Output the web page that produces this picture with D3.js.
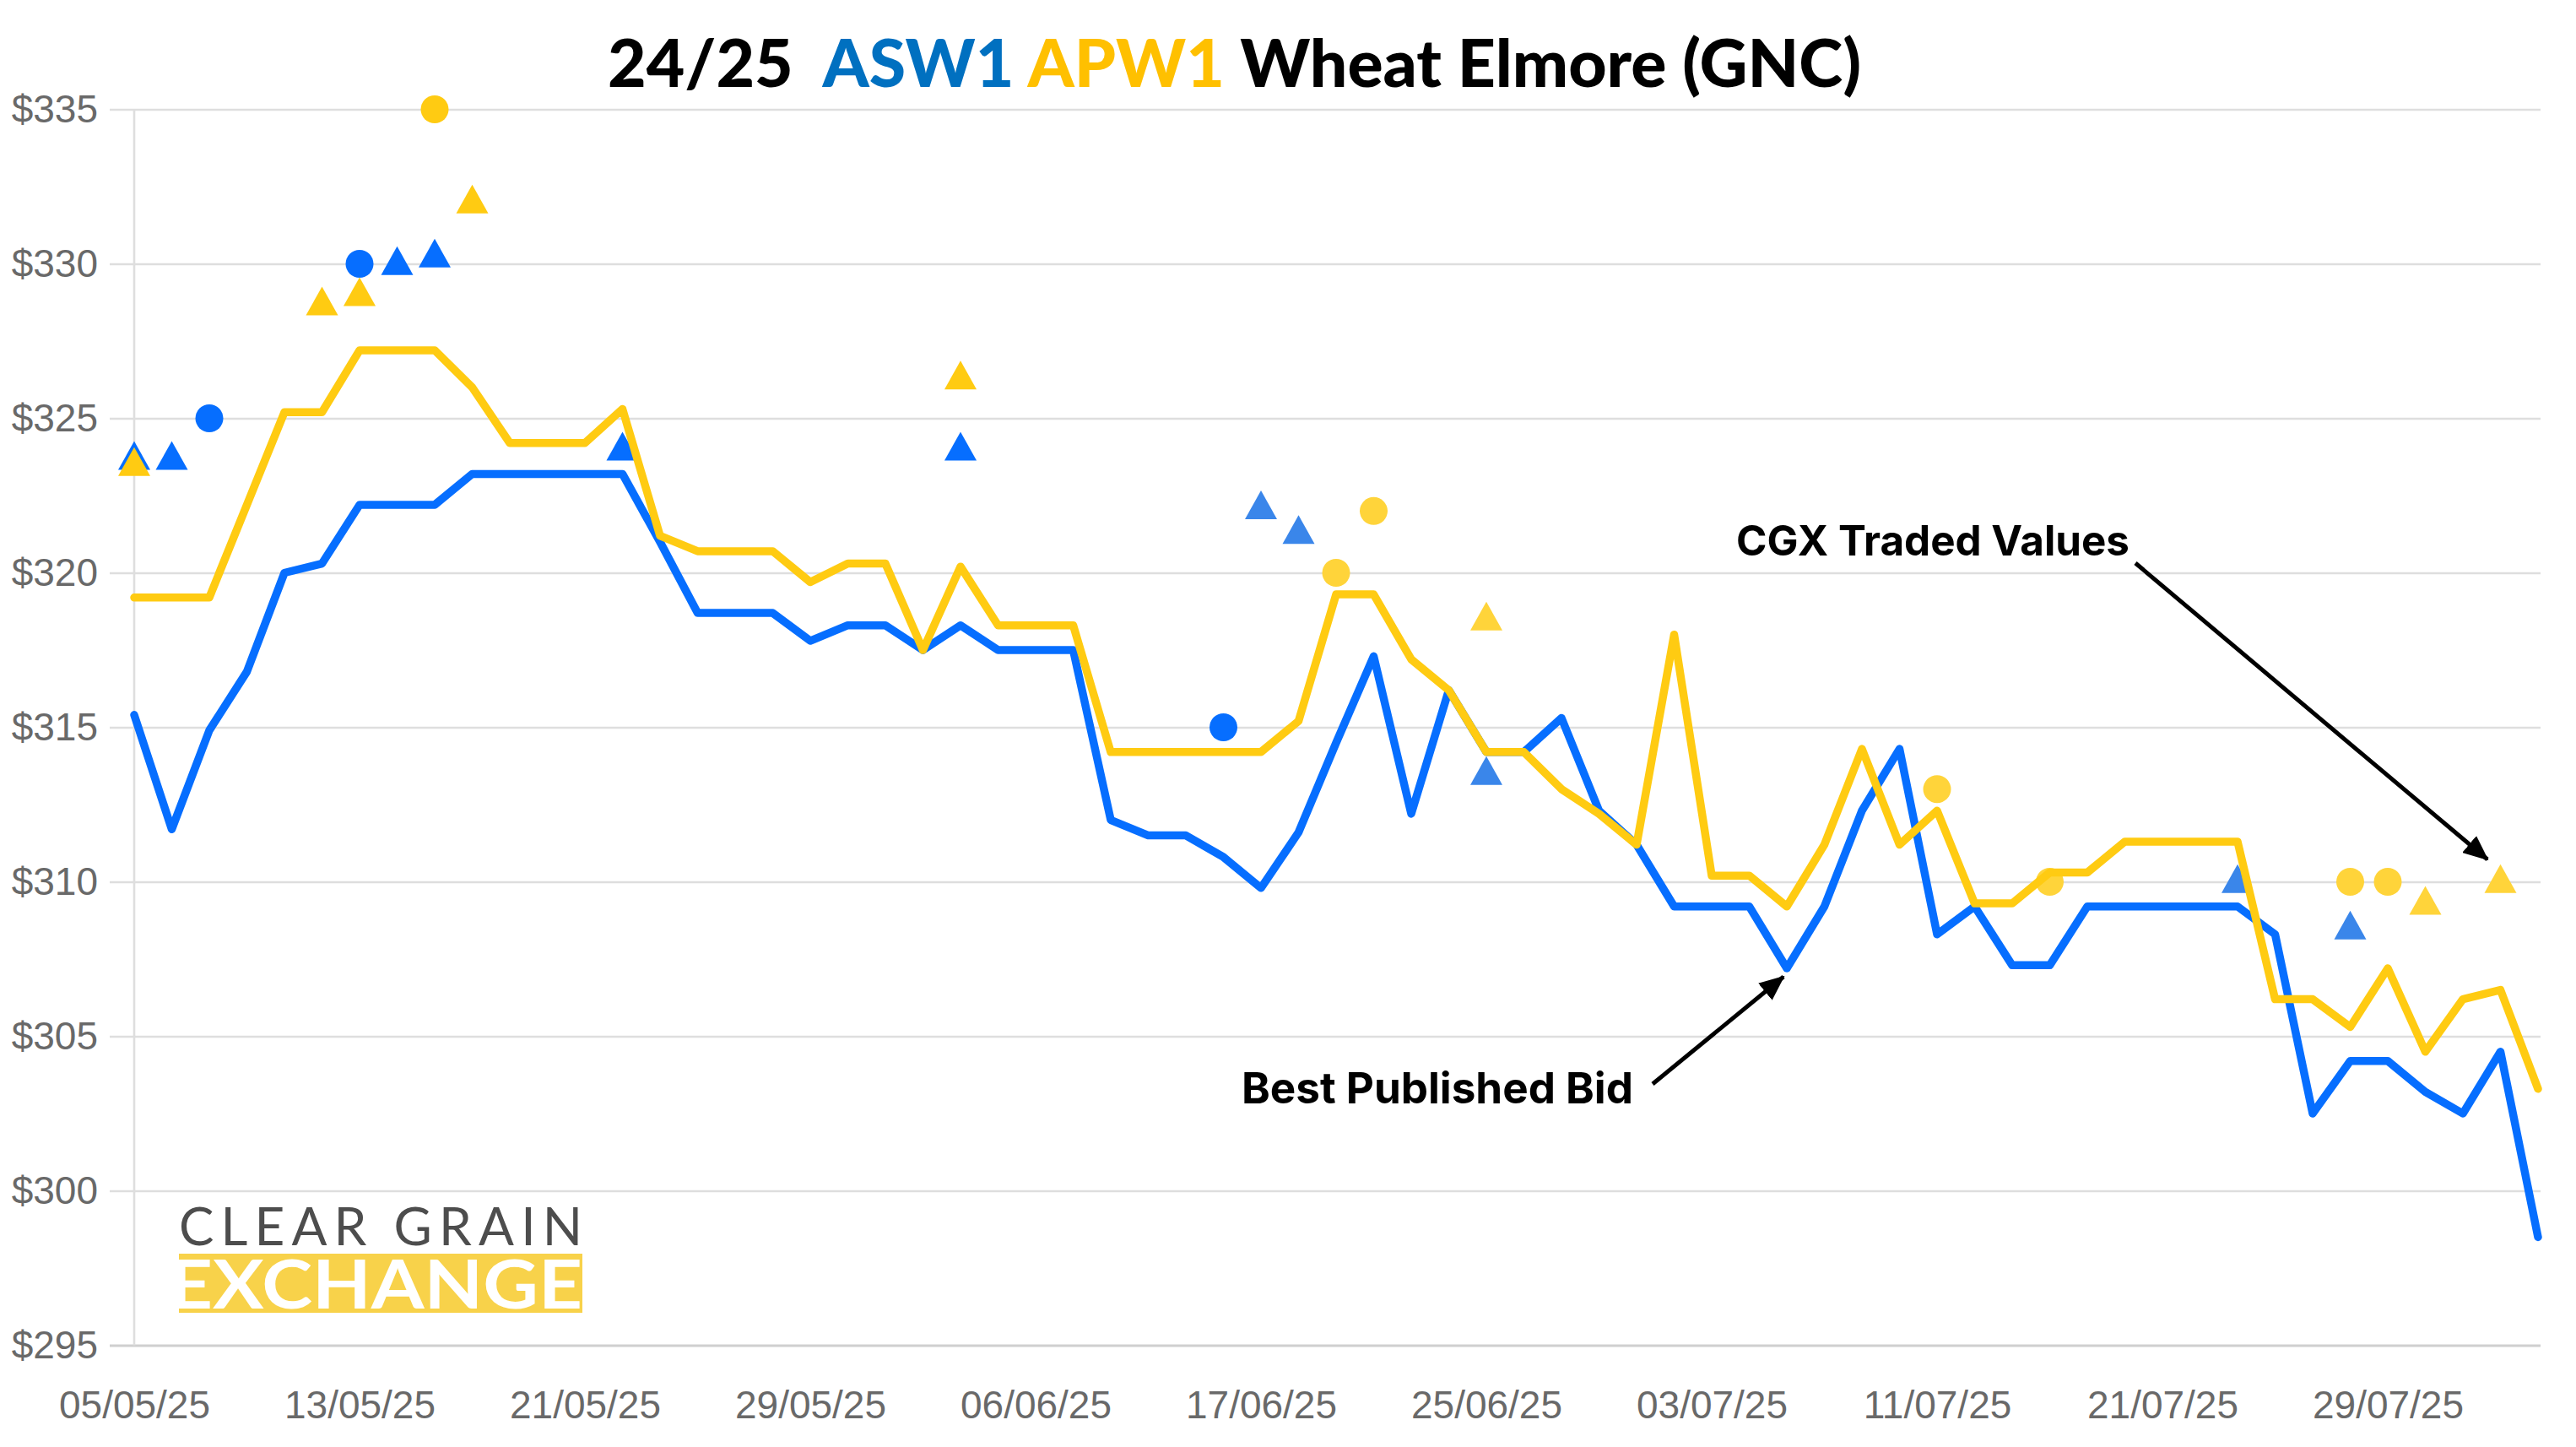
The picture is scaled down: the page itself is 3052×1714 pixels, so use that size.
<!DOCTYPE html>
<html>
<head>
<meta charset="utf-8">
<script src="https://cdn.jsdelivr.net/npm/d3@7"></script>
<style>
  html, body { margin: 0; padding: 0; background: #ffffff; }
  svg { display: block; }
</style>
</head>
<body>
<div id="chart"></div>
<script>
// ---------------- DATA ----------------
const dates = ["05/05/25","06/05/25","07/05/25","08/05/25","09/05/25","12/05/25","13/05/25","14/05/25","15/05/25","16/05/25",
  "19/05/25","20/05/25","21/05/25","22/05/25","23/05/25","26/05/25","27/05/25","28/05/25","29/05/25","30/05/25",
  "02/06/25","03/06/25","04/06/25","05/06/25","06/06/25","10/06/25","11/06/25","12/06/25","13/06/25","16/06/25",
  "17/06/25","18/06/25","19/06/25","20/06/25","23/06/25","24/06/25","25/06/25","26/06/25","27/06/25","30/06/25",
  "01/07/25","02/07/25","03/07/25","04/07/25","07/07/25","08/07/25","09/07/25","10/07/25","11/07/25","14/07/25",
  "15/07/25","16/07/25","17/07/25","18/07/25","21/07/25","22/07/25","23/07/25","24/07/25","25/07/25","28/07/25",
  "29/07/25","30/07/25","31/07/25","01/08/25","04/08/25"];

const xTickLabels = ["05/05/25","13/05/25","21/05/25","29/05/25","06/06/25","17/06/25","25/06/25","03/07/25","11/07/25","21/07/25","29/07/25"];
const yTicks = [295, 300, 305, 310, 315, 320, 325, 330, 335];

// Best published bid, ASW1 (blue)
const asw1Bid = [315.4,311.7,314.9,316.8,320.0,320.3,322.2,322.2,322.2,323.2,
  323.2,323.2,323.2,323.2,321.0,318.7,318.7,318.7,317.8,318.3,
  318.3,317.5,318.3,317.5,317.5,317.5,312.0,311.5,311.5,310.8,
  309.8,311.6,314.5,317.3,312.2,316.2,314.2,314.2,315.3,312.3,
  311.2,309.2,309.2,309.2,307.2,309.2,312.3,314.3,308.3,309.2,
  307.3,307.3,309.2,309.2,309.2,309.2,309.2,308.3,302.5,304.2,
  304.2,303.2,302.5,304.5,298.5];

// Best published bid, APW1 (yellow)
const apw1Bid = [319.2,319.2,319.2,322.2,325.2,325.2,327.2,327.2,327.2,326.0,
  324.2,324.2,324.2,325.3,321.2,320.7,320.7,320.7,319.7,320.3,
  320.3,317.5,320.2,318.3,318.3,318.3,314.2,314.2,314.2,314.2,
  314.2,315.2,319.3,319.3,317.2,316.2,314.2,314.2,313.0,312.2,
  311.2,318.0,310.2,310.2,309.2,311.2,314.3,311.2,312.3,309.3,
  309.3,310.3,310.3,311.3,311.3,311.3,311.3,306.2,306.2,305.3,
  307.2,304.5,306.2,306.5,303.3];

// CGX traded values
const asw1TradeCircle = [["07/05/25",325.0],["13/05/25",330.0],["16/06/25",315.0]];
const asw1TradeTriangle = [["05/05/25",323.8],["06/05/25",323.8],["14/05/25",330.1],["15/05/25",330.35],
  ["22/05/25",324.1],["04/06/25",324.1],["17/06/25",322.2],["18/06/25",321.4],["25/06/25",313.6],
  ["23/07/25",310.1],["28/07/25",308.6]];
const apw1TradeCircle = [["15/05/25",335.0],["19/06/25",320.0],["20/06/25",322.0],["11/07/25",313.0],
  ["16/07/25",310.0],["28/07/25",310.0],["29/07/25",310.0]];
const apw1TradeTriangle = [["05/05/25",323.6],["12/05/25",328.8],["13/05/25",329.1],["16/05/25",332.1],
  ["04/06/25",326.4],["25/06/25",318.6],["30/07/25",309.4],["01/08/25",310.1]];

// ---------------- LAYOUT ----------------
const W = 3052, H = 1714;
const plotLeft = 159, plotRight = 3007, gridRight = 3010, gridLeft = 130;
const plotTop = 129.5, plotBottom = 1593.5;

const BLUE = "#066EFF", BLUE_LIGHT = "#3A86EA";
const YELLOW = "#FFCB12", YELLOW_LIGHT = "#FFD43A";

const svg = d3.select("#chart").append("svg")
  .attr("width", W).attr("height", H).attr("viewBox", `0 0 ${W} ${H}`);

svg.append("rect").attr("width", W).attr("height", H).attr("fill", "#fff");

const x = d3.scalePoint().domain(dates).range([plotLeft, plotRight]).padding(0);
const y = d3.scaleLinear().domain([295, 335]).range([plotBottom, plotTop]);

// Y axis with gridlines
const yAxis = d3.axisLeft(y).tickValues(yTicks).tickFormat(d => "$" + d)
  .tickSize(gridRight - gridLeft).tickPadding(14);
const gy = svg.append("g").attr("transform", `translate(${gridRight},0)`).call(yAxis);
gy.select(".domain").remove();
gy.selectAll(".tick line").attr("stroke", d => d === 295 ? "#cfcfcf" : "#dedede").attr("stroke-width", d => d === 295 ? 3 : 2.6);
gy.selectAll(".tick text").attr("fill", "#696969")
  .style("font-family", "'Liberation Sans', Arial, sans-serif").style("font-size", "46px");

// vertical axis line at left
svg.append("line").attr("x1", plotLeft).attr("x2", plotLeft)
  .attr("y1", y(335)).attr("y2", y(295)).attr("stroke", "#dedede").attr("stroke-width", 2.6);

// X axis
const xAxis = d3.axisBottom(x).tickValues(xTickLabels).tickSize(0).tickPadding(54);
const gx = svg.append("g").attr("transform", `translate(0,${plotBottom})`).call(xAxis);
gx.select(".domain").remove();
gx.selectAll(".tick text").attr("fill", "#696969")
  .style("font-family", "'Liberation Sans', Arial, sans-serif").style("font-size", "46px");

// ---------------- LOGO ----------------
const logo = svg.append("g");
logo.append("text").attr("x", 212).attr("y", 1475)
  .attr("textLength", 478).attr("lengthAdjust", "spacing")
  .style("font-family", "Lato, 'Open Sans', sans-serif").style("font-weight", 400)
  .style("font-size", "62px").attr("fill", "#4d4d4d").text("CLEAR GRAIN");
logo.append("rect").attr("x", 212).attr("y", 1485).attr("width", 478).attr("height", 70).attr("fill", "#F8D24A");
logo.append("defs").append("clipPath").attr("id", "bandclip")
  .append("rect").attr("x", 212).attr("y", 1485).attr("width", 478).attr("height", 70);
logo.append("text").attr("x", 200).attr("y", 1550)
  .attr("clip-path", "url(#bandclip)")
  .attr("textLength", 490).attr("lengthAdjust", "spacingAndGlyphs")
  .style("font-family", "Lato, 'Open Sans', sans-serif").style("font-weight", 700)
  .style("font-size", "80px").attr("fill", "#ffffff").text("EXCHANGE");

// ---------------- MARKERS ----------------
const triType = {
  draw(ctx, size) {
    const w = 38, h = 34;
    ctx.moveTo(0, -h / 2);
    ctx.lineTo(w / 2, h / 2);
    ctx.lineTo(-w / 2, h / 2);
    ctx.closePath();
  }
};
const tri = d3.symbol().type(triType).size(1);
const isLate = d => dates.indexOf(d[0]) >= 30;

const mk = svg.append("g");
mk.selectAll(".bt").data(asw1TradeTriangle).join("path")
  .attr("d", tri).attr("transform", d => `translate(${x(d[0])},${y(d[1])})`)
  .attr("fill", d => isLate(d) ? BLUE_LIGHT : BLUE);
mk.selectAll(".bc").data(asw1TradeCircle).join("circle")
  .attr("cx", d => x(d[0])).attr("cy", d => y(d[1])).attr("r", 16.5)
  .attr("fill", d => isLate(d) ? BLUE_LIGHT : BLUE);
mk.selectAll(".yt").data(apw1TradeTriangle).join("path")
  .attr("d", tri).attr("transform", d => `translate(${x(d[0])},${y(d[1])})`)
  .attr("fill", d => isLate(d) ? YELLOW_LIGHT : YELLOW);
mk.selectAll(".yc").data(apw1TradeCircle).join("circle")
  .attr("cx", d => x(d[0])).attr("cy", d => y(d[1])).attr("r", 16.5)
  .attr("fill", d => isLate(d) ? YELLOW_LIGHT : YELLOW);

// ---------------- LINES ----------------
const line = d3.line().x((d, i) => x(dates[i])).y(d => y(d));
svg.append("path").datum(asw1Bid).attr("d", line).attr("fill", "none")
  .attr("stroke", BLUE).attr("stroke-width", 9.5)
  .attr("stroke-linejoin", "round").attr("stroke-linecap", "round");
svg.append("path").datum(apw1Bid).attr("d", line).attr("fill", "none")
  .attr("stroke", YELLOW).attr("stroke-width", 9.5)
  .attr("stroke-linejoin", "round").attr("stroke-linecap", "round");

// ---------------- TITLE ----------------
const title = svg.append("text").attr("x", 720).attr("y", 103)
  .style("font-family", "Lato, 'Open Sans', sans-serif").style("font-weight", 900)
  .style("font-size", "74px").style("white-space", "pre");
title.append("tspan").attr("fill", "#000").text("24/25  ");
title.append("tspan").attr("fill", "#0070C0").text("ASW1 ");
title.append("tspan").attr("fill", "#FFC000").text("APW1 ");
title.append("tspan").attr("fill", "#000").text("Wheat Elmore (GNC)");
function fitWidth(sel, target, baseSize) {
  const w = sel.node().getComputedTextLength();
  if (w > 0) sel.style("font-size", (baseSize * target / w).toFixed(2) + "px");
}
fitWidth(title, 1485, 74);

// ---------------- ANNOTATIONS ----------------
const defs = svg.append("defs");
defs.append("marker").attr("id", "arrow").attr("viewBox", "0 0 30 26")
  .attr("refX", 28).attr("refY", 13).attr("markerWidth", 30).attr("markerHeight", 26)
  .attr("markerUnits", "userSpaceOnUse").attr("orient", "auto")
  .append("path").attr("d", "M0,0 L30,13 L0,26 Z").attr("fill", "#000");

const annFont = "Inter, 'Noto Sans', sans-serif";
const a1 = svg.append("text").attr("x", 2057).attr("y", 658)
  .style("font-family", annFont).style("font-weight", 700).style("font-size", "50px")
  .attr("fill", "#000").text("CGX Traded Values");
fitWidth(a1, 466, 50);
const a2 = svg.append("text").attr("x", 1471).attr("y", 1307)
  .style("font-family", annFont).style("font-weight", 700).style("font-size", "50px")
  .attr("fill", "#000").text("Best Published Bid");
fitWidth(a2, 464, 50);

svg.append("line").attr("x1", 2530).attr("y1", 667).attr("x2", 2947).attr("y2", 1018)
  .attr("stroke", "#000").attr("stroke-width", 5).attr("marker-end", "url(#arrow)");
svg.append("line").attr("x1", 1958).attr("y1", 1284).attr("x2", 2113).attr("y2", 1157)
  .attr("stroke", "#000").attr("stroke-width", 5).attr("marker-end", "url(#arrow)");
</script>
</body>
</html>
